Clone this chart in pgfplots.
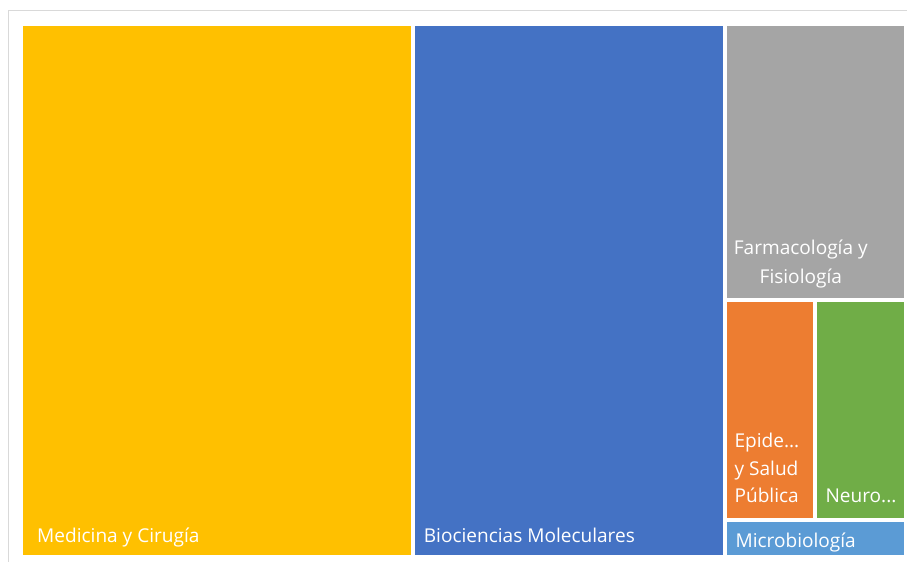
\documentclass[border=0pt]{standalone}
\usepackage{pgfplots}
\pgfplotsset{compat=1.18}
\usepackage{fontspec}
\setmainfont{Open Sans}

\definecolor{cYellow}{HTML}{FFC000}
\definecolor{cBlue}{HTML}{4472C4}
\definecolor{cGray}{HTML}{A5A5A5}
\definecolor{cOrange}{HTML}{ED7D31}
\definecolor{cGreen}{HTML}{70AD47}
\definecolor{cLBlue}{HTML}{5B9BD5}
\definecolor{cFrame}{HTML}{D9D9D9}

\tikzset{lbl/.style={text=white, font=\fontsize{14.3}{17}\selectfont, inner sep=0pt}}

\begin{document}
\begin{tikzpicture}
\begin{axis}[
    hide axis,
    scale only axis,
    width=681pt, height=421.5pt,
    xmin=0, xmax=908, ymin=0, ymax=562,
    y dir=reverse,
    clip=false,
]
\path (axis cs:0,0) rectangle (axis cs:908,562);
\draw[cFrame, line width=1.2pt] (axis cs:8.5,562) -- (axis cs:8.5,10.5) -- (axis cs:908,10.5);

% treemap tiles (pixel layout)
\addplot[draw=none, fill=cYellow] coordinates {(23,26) (411,26) (411,555) (23,555)} --cycle;
\addplot[draw=none, fill=cBlue]   coordinates {(415,26) (724,26) (724,555) (415,555)} --cycle;
\addplot[draw=none, fill=cGray]   coordinates {(728,26) (905,26) (905,298) (728,298)} --cycle;
\addplot[draw=none, fill=cOrange] coordinates {(728,302) (813.5,302) (813.5,518.5) (728,518.5)} --cycle;
\addplot[draw=none, fill=cGreen]  coordinates {(817.5,302) (905,302) (905,518.5) (817.5,518.5)} --cycle;
\addplot[draw=none, fill=cLBlue]  coordinates {(728,522.5) (905,522.5) (905,555) (728,555)} --cycle;

\node[lbl, anchor=base west] at (axis cs:37,543) {Medicina y Cirugía};
\node[lbl, anchor=base west] at (axis cs:424,543) {Biociencias Moleculares};
\node[lbl, anchor=base] at (axis cs:801.5,255) {Farmacología y};
\node[lbl, anchor=base] at (axis cs:801.5,283.5) {Fisiología};
\node[lbl, anchor=base west] at (axis cs:735,448) {Epide...};
\node[lbl, anchor=base west] at (axis cs:735,475.5) {y Salud};
\node[lbl, anchor=base west] at (axis cs:735,503) {Pública};
\node[lbl, anchor=base west] at (axis cs:826,503) {Neuro...};
\node[lbl, anchor=base west] at (axis cs:736,547.5) {Microbiología};
\end{axis}
\end{tikzpicture}
\end{document}
